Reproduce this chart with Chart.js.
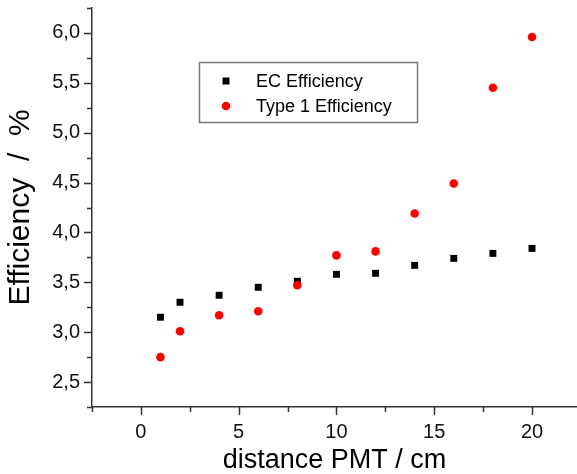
<!DOCTYPE html>
<html>
<head>
<meta charset="utf-8">
<script src="https://cdn.jsdelivr.net/npm/chart.js@4.4.0/dist/chart.umd.min.js"></script>
<style>
  html, body { margin: 0; padding: 0; background: #fff; overflow: hidden; }
  canvas { display: block; }
</style>
</head>
<body>
<canvas id="effChart" width="577" height="474"></canvas>
<script>
// distance PMT in cm
var distances = [1, 2, 4, 6, 8, 10, 12, 14, 16, 18, 20];
var ecEff = [3.15, 3.30, 3.37, 3.45, 3.51, 3.58, 3.59, 3.67, 3.74, 3.79, 3.84];
var type1Eff = [2.75, 3.01, 3.17, 3.21, 3.47, 3.77, 3.81, 4.19, 4.49, 5.45, 5.96];
var legendLabels = ['EC Efficiency', 'Type 1 Efficiency'];

function toPoints(ys) {
  var pts = [];
  for (var i = 0; i < distances.length; i++) pts.push({x: distances[i], y: ys[i]});
  return pts;
}

function noPad(s) {
  s.paddingTop = 0; s.paddingBottom = 0; s.paddingLeft = 0; s.paddingRight = 0;
}

// tick marks drawn outward, long for labelled ticks, short for the others
var tickMarks = {
  id: 'tickMarks',
  afterDraw: function (chart) {
    var ctx = chart.ctx, xs = chart.scales.x, ys = chart.scales.y, a = chart.chartArea;
    ctx.save();
    ctx.strokeStyle = '#333';
    ctx.lineWidth = 1.5;
    ctx.beginPath();
    for (var k = 0; k <= 9; k++) {
      var px = Math.round(xs.getPixelForValue(-2.5 + k * 2.5)) + 0.5;
      var len = (k % 2 === 1) ? 8 : 5;
      ctx.moveTo(px, a.bottom);
      ctx.lineTo(px, a.bottom + len);
    }
    for (var j = 0; j <= 16; j++) {
      var py = Math.round(ys.getPixelForValue(2.25 + j * 0.25)) + 0.5;
      var l = (j % 2 === 1) ? 8 : 5;
      ctx.moveTo(a.left, py);
      ctx.lineTo(a.left - l, py);
    }
    ctx.stroke();

    // legend box inside the plot
    ctx.strokeStyle = '#777';
    ctx.lineWidth = 1.5;
    ctx.strokeRect(199.5, 62.5, 218, 60);
    ctx.fillStyle = '#000';
    ctx.fillRect(222.5, 77.5, 7, 7);
    ctx.fillStyle = '#ff0000';
    ctx.beginPath();
    ctx.arc(226, 106, 4.3, 0, Math.PI * 2);
    ctx.fill();
    ctx.fillStyle = '#000';
    ctx.font = '18px "Liberation Sans", Arial, sans-serif';
    ctx.textBaseline = 'middle';
    ctx.fillText(legendLabels[0], 256, 82);
    ctx.fillText(legendLabels[1], 256, 107);
    ctx.restore();
  }
};

var ctx = document.getElementById('effChart').getContext('2d');
new Chart(ctx, {
  type: 'scatter',
  data: {
    datasets: [{
      label: legendLabels[0],
      data: toPoints(ecEff),
      pointStyle: 'rect',
      pointRadius: 4.9,
      backgroundColor: '#000',
      borderColor: '#000',
      borderWidth: 0,
      order: 2
    }, {
      label: legendLabels[1],
      data: toPoints(type1Eff),
      pointStyle: 'circle',
      pointRadius: 4.3,
      backgroundColor: '#ff0000',
      borderColor: '#ff0000',
      borderWidth: 0,
      order: 1
    }]
  },
  options: {
    responsive: false,
    animation: false,
    layout: { autoPadding: false, padding: { top: 8, right: 0, left: 0, bottom: 0 } },
    plugins: { legend: { display: false }, tooltip: { enabled: false } },
    scales: {
      x: {
        type: 'linear',
        min: -2.5,
        max: 22.3,
        afterFit: function (s) { s.height = 67; noPad(s); },
        grid: { display: false },
        border: { display: true, color: '#333', width: 1.5 },
        ticks: {
          stepSize: 2.5,
          includeBounds: false,
          padding: 5,
          color: '#111',
          font: { family: '"Liberation Sans", Arial, sans-serif', size: 20 },
          maxRotation: 0,
          autoSkip: false,
          callback: function (v) {
            var r = Math.round(v * 10);
            return (r % 50 === 0) ? String(Math.round(v)) : '';
          }
        },
        title: {
          display: true,
          text: 'distance PMT / cm',
          color: '#000',
          padding: { top: 0, bottom: 0 },
          font: { family: '"Liberation Sans", Arial, sans-serif', size: 27, lineHeight: 1 }
        }
      },
      y: {
        type: 'linear',
        min: 2.25,
        max: 6.25,
        afterFit: function (s) { s.width = 92; noPad(s); },
        grid: { display: false },
        border: { display: true, color: '#333', width: 1.5 },
        ticks: {
          stepSize: 0.25,
          padding: 4,
          color: '#111',
          autoSkip: false,
          font: { family: '"Liberation Sans", Arial, sans-serif', size: 20 },
          callback: function (v) {
            var r = Math.round(v * 100);
            return (r % 50 === 0) ? v.toFixed(1).replace('.', ',') : '';
          }
        },
        title: {
          display: true,
          text: 'Efficiency  /  %',
          color: '#000',
          padding: { top: 6, bottom: 0 },
          font: { family: '"Liberation Sans", Arial, sans-serif', size: 30, lineHeight: 1 }
        }
      }
    }
  },
  plugins: [tickMarks]
});
</script>
</body>
</html>
